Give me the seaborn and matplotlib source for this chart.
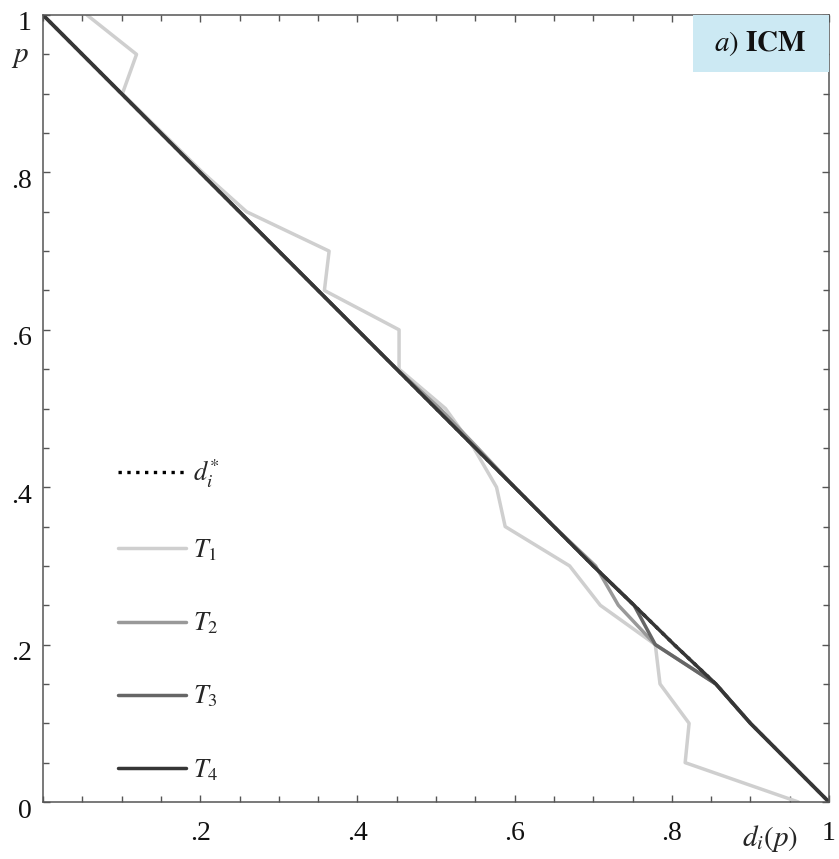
import matplotlib
matplotlib.use("Agg")
import matplotlib.pyplot as plt
import matplotlib.transforms as mtransforms
from matplotlib.patches import Rectangle
from matplotlib.ticker import MultipleLocator, FixedLocator
import pandas as pd
import seaborn as sns

# ---- data ----
p_grid = [1.00, 0.95, 0.90, 0.85, 0.80, 0.75, 0.70, 0.65, 0.60, 0.55, 0.50,
          0.45, 0.40, 0.35, 0.30, 0.25, 0.20, 0.15, 0.10, 0.05, 0.00]
d_star = [0.00, 0.05, 0.10, 0.15, 0.20, 0.25, 0.30, 0.35, 0.40, 0.45, 0.50,
          0.55, 0.60, 0.65, 0.70, 0.752, 0.803, 0.856, 0.90, 0.95, 1.00]
T1 = [0.056, 0.119, 0.101, 0.152, 0.203, 0.259, 0.364, 0.358, 0.453, 0.453, 0.512,
      0.548, 0.577, 0.588, 0.670, 0.709, 0.779, 0.785, 0.822, 0.817, 0.961]
T2 = [0.00, 0.05, 0.10, 0.15, 0.20, 0.25, 0.30, 0.35, 0.40, 0.45, 0.505,
      0.553, 0.60, 0.65, 0.703, 0.732, 0.779, 0.856, 0.90, 0.95, 1.00]
T3 = [0.00, 0.05, 0.10, 0.15, 0.20, 0.25, 0.30, 0.35, 0.40, 0.45, 0.50,
      0.55, 0.60, 0.65, 0.70, 0.752, 0.779, 0.856, 0.90, 0.95, 1.00]
T4 = [0.00, 0.05, 0.10, 0.15, 0.20, 0.25, 0.30, 0.35, 0.40, 0.45, 0.50,
      0.55, 0.60, 0.65, 0.70, 0.752, 0.803, 0.856, 0.90, 0.95, 1.00]

series_names = ["d*", "T1", "T2", "T3", "T4"]
series_labels = [r"$d_i^{*}$", r"$T_1$", r"$T_2$", r"$T_3$", r"$T_4$"]
series_colors = ["#000000", "#cfcfcf", "#999999", "#666666", "#363636"]

x_tick_values = [0.2, 0.4, 0.6, 0.8, 1.0]
x_tick_labels = [".2", ".4", ".6", ".8", "1"]
y_tick_values = [0.0, 0.2, 0.4, 0.6, 0.8, 1.0]
y_tick_labels = ["0", ".2", ".4", ".6", ".8", "1"]

# ---- style ----
sns.set_style("ticks")
plt.rcParams["font.family"] = ["Liberation Serif", "DejaVu Serif"]
plt.rcParams["mathtext.fontset"] = "stix"

fig = plt.figure(figsize=(8.39, 8.59), dpi=100)
ax = fig.add_axes([43 / 839, 1 - 802 / 859, 786 / 839, 787 / 859])

all_d = d_star + T1 + T2 + T3 + T4
df = pd.DataFrame({
    "p": p_grid * len(series_names),
    "d": all_d,
    "series": sum([[n] * len(p_grid) for n in series_names], []),
})

for name, lab, col in zip(series_names, series_labels, series_colors):
    sub = df[df["series"] == name]
    sns.lineplot(data=sub, x="d", y="p", sort=False, estimator=None, ax=ax,
                 color=col, linewidth=2.5 if name != "d*" else 2.4,
                 linestyle=":" if name == "d*" else "-", label=lab)

ax.set_xlim(0, 1)
ax.set_ylim(0, 1)
ax.xaxis.set_major_locator(FixedLocator(x_tick_values))
ax.yaxis.set_major_locator(FixedLocator(y_tick_values))
ax.set_xticklabels(x_tick_labels)
ax.set_yticklabels(y_tick_labels)
ax.xaxis.set_minor_locator(MultipleLocator(0.05))
ax.yaxis.set_minor_locator(MultipleLocator(0.05))
ax.tick_params(which="both", direction="in", top=True, right=True,
               color="#555555", width=1.0, labelsize=20, labelcolor="#111111")
ax.tick_params(which="major", length=5)
ax.tick_params(which="minor", length=4)
ax.tick_params(axis="x", pad=14)
ax.tick_params(axis="y", pad=8)
for s in ax.spines.values():
    s.set_color("#555555")
    s.set_linewidth(1.1)

offset = mtransforms.ScaledTranslation(0, -6 / 100, fig.dpi_scale_trans)
for lbl in ax.get_yticklabels():
    lbl.set_transform(lbl.get_transform() + offset)

ax.set_xlabel(r"$d_i(p)$", fontsize=21)
ax.xaxis.set_label_coords(0.925, -0.047)
ax.xaxis.label.set_ha("center")
ax.xaxis.label.set_va("center")
ax.set_ylabel(r"$p$", fontsize=21, rotation=0)
ax.yaxis.set_label_coords(-0.029, 0.947)
ax.yaxis.label.set_ha("center")
ax.yaxis.label.set_va("center")

ax.legend(loc="upper left", bbox_to_anchor=(0.095, 0.438), frameon=False,
          handlelength=2.6, handletextpad=0.25, labelspacing=1.8,
          fontsize=19, borderpad=0, borderaxespad=0)

ax.add_patch(Rectangle((0.827, 0.928), 0.173, 0.072, transform=ax.transAxes,
                       facecolor="#cce9f3", edgecolor="none", zorder=5))
ax.text(0.913, 0.964, r"$\mathit{a)}\ \mathbf{ICM}$", transform=ax.transAxes,
        ha="center", va="center", fontsize=21, zorder=6, color="#111111")

fig.savefig("out.png", dpi=100)
